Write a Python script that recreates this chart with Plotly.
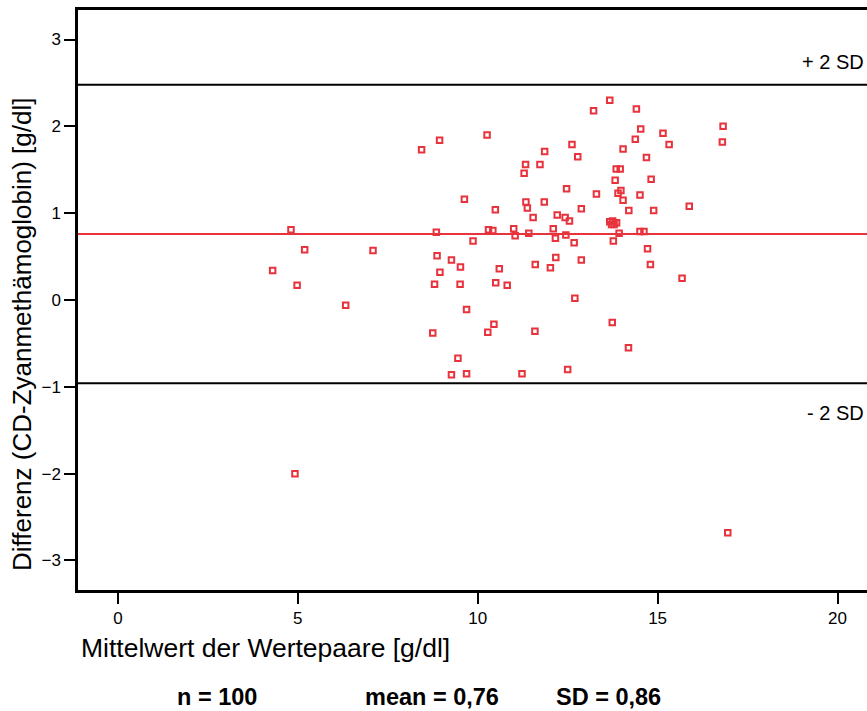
import plotly.graph_objects as go

# Mean of pairs [g/dl]
mittelwert = [4.30, 4.81, 4.98, 5.19, 4.92, 6.33, 7.09, 8.44, 8.94, 8.85,
              8.87, 8.95, 8.80, 8.75, 9.27, 9.52, 9.51, 9.63, 9.87, 9.69,
              9.45, 9.27, 9.69, 10.26, 10.49, 10.30, 10.42, 10.60, 10.50, 10.45,
              10.28, 13.67, 14.41, 13.22, 16.82, 16.80, 14.53, 15.15, 14.38, 15.32,
              12.62, 14.04, 11.86, 12.78, 14.69, 11.33, 11.73, 11.29, 13.85, 13.96,
              13.82, 14.82, 12.47, 13.98, 13.90, 13.30, 14.51, 14.04, 11.34, 11.38,
              11.85, 12.88, 14.20, 14.89, 15.88, 11.54, 12.21, 12.43, 12.55, 13.67,
              13.72, 13.79, 13.86, 11.00, 11.04, 11.42, 12.10, 12.45, 12.16, 13.93,
              14.51, 14.62, 12.68, 13.77, 14.72, 12.17, 12.88, 11.60, 12.02, 14.80,
              10.82, 15.68, 12.70, 13.74, 11.59, 14.19, 11.23, 12.50, 16.95, 13.75]

# Difference [g/dl]
differenz = [0.34, 0.81, 0.17, 0.58, -2.00, -0.06, 0.57, 1.73, 1.84, 0.78,
             0.51, 0.32, 0.18, -0.38, 0.46, 0.38, 0.18, 1.16, 0.68, -0.11,
             -0.67, -0.86, -0.85, 1.90, 1.04, 0.81, 0.80, 0.36, 0.20, -0.28,
             -0.37, 2.30, 2.20, 2.18, 2.00, 1.82, 1.97, 1.92, 1.85, 1.79,
             1.79, 1.74, 1.71, 1.65, 1.64, 1.56, 1.56, 1.46, 1.51, 1.51,
             1.38, 1.39, 1.28, 1.26, 1.23, 1.22, 1.21, 1.15, 1.13, 1.06,
             1.13, 1.05, 1.03, 1.03, 1.08, 0.95, 0.98, 0.95, 0.91, 0.90,
             0.87, 0.87, 0.89, 0.82, 0.74, 0.77, 0.82, 0.75, 0.71, 0.77,
             0.79, 0.79, 0.66, 0.68, 0.59, 0.49, 0.46, 0.41, 0.37, 0.41,
             0.17, 0.25, 0.02, -0.26, -0.36, -0.55, -0.85, -0.80, -2.68, 0.91]

n = 100
mean_diff = 0.76
sd_diff = 0.86
upper = 2.48
lower = -0.96

xticks = [0, 5, 10, 15, 20]
yticks = [-3, -2, -1, 0, 1, 2, 3]

RED = "#e8333d"
FONT = "Liberation Sans, Arial, sans-serif"

W, H = 867, 711
L, R, T, B = 78, 0, 10, 711 - 590
pw, ph = W - L - R, H - T - B


def px_to_paper(px, py):
    """Page pixel position -> paper coordinates of the figure."""
    return (px - L) / pw, (H - B - py) / ph


fig = go.Figure()
fig.add_trace(go.Scatter(
    x=mittelwert, y=differenz, mode="markers",
    marker=dict(symbol="square-open", size=5.5, color=RED, line=dict(width=2, color=RED)),
    showlegend=False, cliponaxis=False, hoverinfo="skip",
))

fig.add_hline(y=upper, line=dict(color="black", width=2))
fig.add_hline(y=lower, line=dict(color="black", width=2))
fig.add_hline(y=mean_diff, line=dict(color=RED, width=2))

fig.add_annotation(x=1, xref="paper", y=2.74, yref="y", text="+ 2 SD",
                   showarrow=False, xanchor="right", yanchor="middle", xshift=-1,
                   font=dict(size=20, color="black", family=FONT))
fig.add_annotation(x=1, xref="paper", y=-1.30, yref="y", text="- 2 SD",
                   showarrow=False, xanchor="right", yanchor="middle", xshift=-1,
                   font=dict(size=20, color="black", family=FONT))


def add_px_text(px, py, text, size, angle=0, xanchor="center"):
    ax, ay = px_to_paper(px, py)
    fig.add_annotation(x=ax, y=ay, xref="paper", yref="paper", text=text,
                       showarrow=False, textangle=angle, xanchor=xanchor, yanchor="middle",
                       font=dict(size=size, color="black", family=FONT))


add_px_text(22, 335, "Differenz (CD-Zyanmethämoglobin) [g/dl]", 26, angle=-90)
add_px_text(79, 648, "Mittelwert der Wertepaare [g/dl]", 26.5, xanchor="left")
add_px_text(217, 697, f"<b>n = {n}</b>", 23.5)
add_px_text(432, 697, "<b>mean = 0,76</b>", 23.5)
add_px_text(608, 697, "<b>SD = 0,86</b>", 23.5)

fig.update_layout(
    width=W, height=H,
    margin=dict(l=L, r=R, t=T, b=B, pad=0),
    plot_bgcolor="white", paper_bgcolor="white",
    font=dict(family=FONT, color="black", size=17),
    hovermode=False,
)
fig.update_xaxes(range=[-1.11, 20.82], tickvals=xticks, showgrid=False, zeroline=False,
                 showline=True, linecolor="black", linewidth=2.5, mirror=True,
                 ticks="outside", ticklen=11, tickwidth=2, tickcolor="black",
                 tickfont=dict(size=17))
fig.update_yaxes(range=[-3.34, 3.34], tickvals=yticks, showgrid=False, zeroline=False,
                 showline=True, linecolor="black", linewidth=2.5,
                 ticks="outside", ticklen=11, tickwidth=2, tickcolor="black",
                 tickfont=dict(size=17))

fig.write_html("out.html", config={"displayModeBar": False},
               post_script="document.body.style.margin='0';document.body.style.overflow='hidden';")
